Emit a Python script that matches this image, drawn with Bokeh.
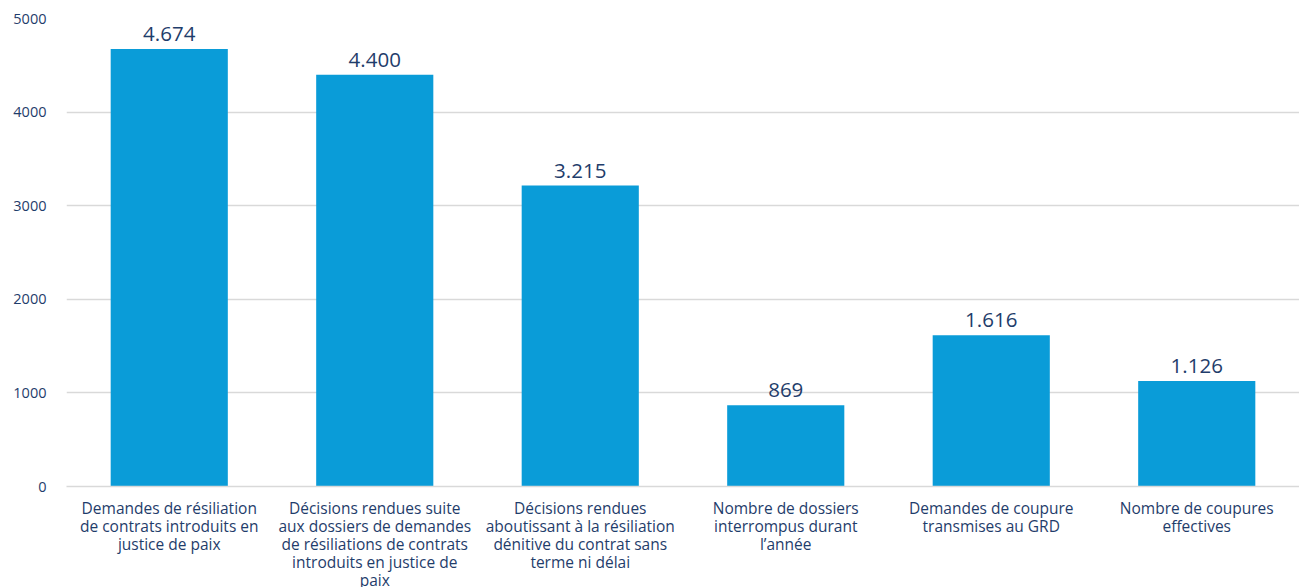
from bokeh.plotting import figure
from bokeh.models import ColumnDataSource, FactorRange, Range1d, SingleIntervalTicker
from bokeh.core.properties import value
from bokeh.embed import file_html
from bokeh.resources import INLINE

categories = [
    "Demandes de résiliation\nde contrats introduits en\njustice de paix",
    "Décisions rendues suite\naux dossiers de demandes\nde résiliations de contrats\nintroduits en justice de\npaix",
    "Décisions rendues\naboutissant à la résiliation\ndénitive du contrat sans\nterme ni délai",
    "Nombre de dossiers\ninterrompus durant\nl\u2019année",
    "Demandes de coupure\ntransmises au GRD",
    "Nombre de coupures\neffectives",
]
values = [4674, 4400, 3215, 869, 1616, 1126]
value_labels = ["4.674", "4.400", "3.215", "869", "1.616", "1.126"]

FONT = "Open Sans"
TEXT_COLOR = "#1f3d6b"
BAR_COLOR = "#0a9cd8"
GRID_COLOR = "#d9d9d9"

src = ColumnDataSource(dict(cat=categories, val=values, lab=value_labels))

p = figure(
    x_range=FactorRange(*categories),
    y_range=Range1d(0, 5000),
    frame_width=1233, frame_height=468,
    output_backend="svg", toolbar_location=None,
    min_border_left=66, min_border_right=0, min_border_top=18, min_border_bottom=101,
)
p.outline_line_color = None

p.vbar(x="cat", top="val", width=0.57, source=src, color=BAR_COLOR, line_color=None)
p.text(x="cat", y="val", text="lab", source=src, text_align="center", text_baseline="bottom",
       y_offset=-8, text_font=value(FONT), text_font_size="20.5px", text_color=TEXT_COLOR)

p.xgrid.grid_line_color = None
p.ygrid.grid_line_color = GRID_COLOR
p.ygrid.grid_line_width = 1.5
p.yaxis.ticker = SingleIntervalTicker(interval=1000)

p.yaxis.axis_line_color = None
p.yaxis.major_tick_line_color = None
p.yaxis.minor_tick_line_color = None
p.yaxis.major_label_text_font = FONT
p.yaxis.major_label_text_font_size = "14.5px"
p.yaxis.major_label_text_color = TEXT_COLOR
p.yaxis.major_label_standoff = 14

p.xaxis.axis_line_color = GRID_COLOR
p.xaxis.axis_line_width = 1.5
p.xaxis.major_tick_line_color = None
p.xaxis.minor_tick_line_color = None
p.xaxis.major_label_text_font = FONT
p.xaxis.major_label_text_font_size = "15.5px"
p.xaxis.major_label_text_color = TEXT_COLOR
p.xaxis.major_label_text_line_height = 0.82
p.xaxis.major_label_standoff = 4

open("out.html", "w").write(file_html(p, INLINE))
